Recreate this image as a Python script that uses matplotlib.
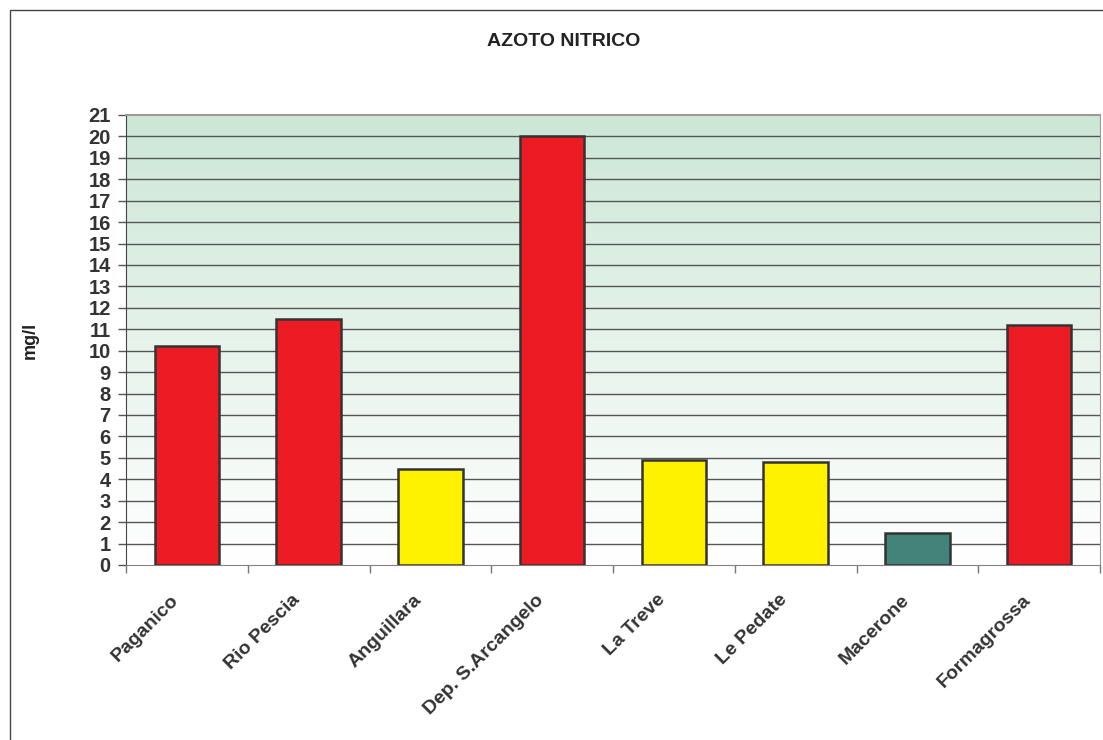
import numpy as np
import matplotlib.pyplot as plt
from matplotlib.colors import LinearSegmentedColormap
from matplotlib.patches import Rectangle
from matplotlib.transforms import ScaledTranslation

stazioni = ['Paganico', 'Rio Pescia', 'Anguillara', 'Dep. S.Arcangelo',
            'La Treve', 'Le Pedate', 'Macerone', 'Formagrossa']
valori = [10.2, 11.5, 4.5, 20.0, 4.9, 4.8, 1.5, 11.2]
colori = ['#ED1C24', '#ED1C24', '#FFF200', '#ED1C24',
          '#FFF200', '#FFF200', '#42837A', '#ED1C24']

plt.rcParams['font.family'] = ['Liberation Sans', 'DejaVu Sans']
plt.rcParams['font.weight'] = 'bold'

fig = plt.figure(figsize=(11.03, 7.4), dpi=100)
fig.patches.append(Rectangle((10 / 1103, -0.1), 1.2, 1 - 10 / 740 + 0.1,
                             transform=fig.transFigure, fill=False,
                             edgecolor='#444444', linewidth=1.0))

ax = fig.add_axes([126 / 1103, 1 - 565 / 740, 974 / 1103, 450 / 740])
x = np.arange(len(stazioni))

# sfondo sfumato verde -> bianco
grad = LinearSegmentedColormap.from_list('g', ['#ffffff', '#cce7d6'])
ax.imshow(np.linspace(0, 1, 256).reshape(-1, 1), cmap=grad, aspect='auto',
          origin='lower', extent=[-0.5, len(stazioni) - 0.5, 0, 21], zorder=0)

for v in range(1, 21):
    ax.axhline(v, color='#555555', linewidth=1.0, zorder=1)

ax.bar(x, valori, width=0.53, color=colori, edgecolor='#333333',
       linewidth=1.8, zorder=3)

ax.set_xlim(-0.5, len(stazioni) - 0.5)
ax.set_ylim(0, 21)
ax.set_yticks(range(0, 22))
ax.tick_params(axis='y', labelsize=14.5, labelcolor='#333333', color='#555555',
               length=6, width=1, pad=5)

ax.set_xticks(np.arange(len(stazioni) + 1) - 0.5)
ax.set_xticklabels([])
ax.tick_params(axis='x', which='major', length=6, color='#777777', width=1)
ax.set_xticks(x, minor=True)
ax.set_xticklabels(stazioni, minor=True, rotation=45, ha='right', va='top',
                   rotation_mode='anchor', fontsize=14, color='#333333')
ax.tick_params(axis='x', which='minor', length=0, pad=19)
shift = ScaledTranslation(-17 / 100, 0, fig.dpi_scale_trans)
for lbl in ax.get_xticklabels(minor=True):
    lbl.set_transform(lbl.get_transform() + shift)

ax.spines['left'].set_color('#444444')
ax.spines['bottom'].set_color('#888080')
ax.spines['top'].set_color('#a09692')
ax.spines['top'].set_linewidth(1.5)
ax.spines['right'].set_color('#a09692')

fig.text(564 / 1103, 1 - 41 / 740, 'AZOTO NITRICO', ha='center', va='center',
         fontsize=14, color='#222222', fontweight='bold')
fig.text(30 / 1103, 1 - 340 / 740, 'mg/l', ha='center', va='center',
         rotation=90, fontsize=13, color='#222222', fontweight='bold')

fig.savefig('out.png', dpi=100)
